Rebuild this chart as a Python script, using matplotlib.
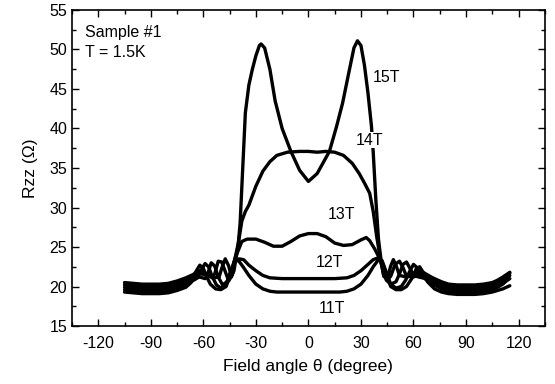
import matplotlib
matplotlib.use("Agg")
import matplotlib.pyplot as plt
from matplotlib.ticker import MultipleLocator

plt.rcParams['font.family'] = ['Liberation Sans', 'DejaVu Sans']
plt.rcParams['axes.unicode_minus'] = False

# field angle (deg) and Rzz (ohm) for each field
theta_11 = [-105, -100, -95, -90, -85, -80, -75, -70, -67, -64.5, -62, -60, -58, -56, -53, -50,
            -47, -44.5, -42, -40, -37, -34, -30, -26, -22, -18, -10, 0, 10, 18, 22, 26, 30, 34,
            37, 40, 42, 44.5, 47, 50, 53, 56, 59, 61.5, 63.5, 65.5, 68, 72, 76, 80, 85, 90, 95,
            100, 105, 108, 111, 113, 115]
r_11 = [19.3, 19.2, 19.1, 19.1, 19.1, 19.2, 19.5, 19.9, 20.5, 21.8, 22.7, 22.3, 21.2, 20.3, 19.7, 19.6,
        20.0, 21.5, 23.2, 23.3, 22.4, 21.4, 20.3, 19.7, 19.4, 19.3, 19.3, 19.3, 19.3, 19.3, 19.4, 19.7, 20.3, 21.4,
        22.5, 23.4, 23.2, 21.5, 20.0, 19.6, 19.6, 20.0, 21.0, 22.2, 22.5, 21.8, 20.6, 19.7, 19.3, 19.1, 19.0, 19.0, 19.0,
        19.1, 19.3, 19.5, 19.7, 19.9, 20.1]

theta_12 = [-105, -100, -95, -90, -85, -80, -75, -70, -67, -64, -61.5, -59, -57, -55, -52.5, -50,
            -47, -44.5, -42, -39.5, -37, -34, -30, -26, -22, -15, 0, 15, 22, 26, 30, 34, 37, 39.5,
            42, 44.5, 47, 50, 53, 55.5, 58, 60, 62, 64, 67, 71, 76, 80, 85, 90, 95, 100, 105,
            108, 111, 113, 115]
r_12 = [19.6, 19.5, 19.4, 19.4, 19.4, 19.5, 19.8, 20.2, 20.6, 21.0, 22.0, 22.9, 22.5, 21.3, 20.2, 19.8,
        20.3, 21.8, 23.3, 23.5, 23.4, 22.7, 22.0, 21.4, 21.1, 21.0, 21.0, 21.0, 21.1, 21.4, 22.0, 22.8, 23.4, 23.6,
        23.3, 21.8, 20.3, 19.8, 20.0, 20.8, 22.0, 22.8, 22.4, 21.5, 20.9, 20.3, 19.7, 19.4, 19.3, 19.3, 19.3, 19.4, 19.6,
        19.9, 20.3, 20.7, 21.0]

theta_13 = [-105, -100, -95, -90, -85, -80, -75, -70, -66, -62, -59, -57.5, -55.5, -53.5, -51.5, -49,
            -46.5, -44, -42, -40, -38, -35, -30, -25, -20, -15, -10, -5, 0, 5, 10, 15, 20, 25, 30,
            33, 35, 38, 40.5, 42, 44.5, 47, 50, 52, 54, 56, 58, 60, 63, 67, 71, 76, 80, 85, 90,
            95, 100, 105, 108, 111, 113, 115]
r_13 = [19.9, 19.8, 19.7, 19.7, 19.7, 19.8, 20.1, 20.5, 20.9, 21.2, 21.0, 21.6, 23.0, 22.6, 21.2, 20.2,
        20.6, 22.0, 23.5, 24.6, 25.7, 26.0, 26.0, 25.6, 25.1, 25.1, 25.7, 26.4, 26.7, 26.7, 26.3, 25.5, 25.2, 25.3, 25.9,
        26.2, 25.8, 24.7, 23.6, 22.6, 20.8, 20.3, 20.6, 21.6, 22.8, 23.1, 22.3, 21.4, 21.2, 21.0, 20.5, 20.0, 19.7, 19.6, 19.6,
        19.6, 19.7, 19.9, 20.2, 20.6, 21.0, 21.4]

theta_14 = [-105, -100, -95, -90, -85, -80, -75, -70, -66, -62, -58, -55, -53.5, -51.5, -49.5, -47.5,
            -45.5, -43.5, -42, -40, -38, -36, -34, -30, -26, -22, -18, -12, -5, 0, 5, 10, 15, 20,
            25, 29, 32, 35, 37, 39, 41, 43, 45, 47, 49.5, 52, 54, 56, 60, 64, 67, 71, 76, 80, 85,
            90, 95, 100, 105, 108, 111, 113, 115]
r_14 = [20.2, 20.1, 20.0, 20.0, 20.0, 20.1, 20.4, 20.8, 21.2, 21.6, 21.5, 21.1, 21.6, 23.2, 23.1, 21.9,
        20.7, 21.5, 23.5, 25.5, 28.3, 29.5, 30.3, 32.7, 34.6, 35.8, 36.6, 37.0, 37.1, 37.1, 37.0, 37.1, 37.0, 36.6,
        35.6, 34.3, 33.1, 31.8, 29.5, 26.3, 23.6, 21.4, 20.8, 21.3, 22.8, 23.2, 22.4, 21.3, 21.2, 21.6, 21.3, 20.8, 20.3, 20.0, 19.9,
        19.9, 19.9, 20.0, 20.2, 20.5, 20.9, 21.3, 21.7]

theta_15 = [-105, -100, -95, -90, -85, -80, -75, -70, -66, -62, -58, -54, -51, -49.5, -47.5, -45.5,
            -44, -42.5, -41, -40, -39, -37.5, -36, -34, -32, -30, -28, -27, -25, -22, -19, -15,
            -10, -5, 0, 5, 8, 12, 16, 19.5, 23, 26, 28, 30, 32, 34, 36, 37, 38.5, 40, 41.5, 43,
            45, 47, 48.5, 50, 52, 56, 60, 64, 67, 71, 76, 80, 85, 90, 95, 100, 105, 108, 111,
            113, 115]
r_15 = [20.5, 20.4, 20.3, 20.3, 20.3, 20.4, 20.7, 21.1, 21.5, 22.0, 21.6, 21.1, 21.2, 22.3, 23.5, 22.6,
        21.2, 22.0, 24.0, 25.5, 28.0, 35.0, 42.0, 45.5, 47.5, 49.2, 50.5, 50.7, 50.2, 47.5, 43.5, 40.0,
        37.1, 34.7, 33.3, 34.3, 35.5, 37.1, 40.2, 43.2, 47.0, 50.2, 51.1, 50.5, 48.0, 44.5, 40.3, 37.0, 31.0, 26.0, 23.3, 21.3,
        21.0, 22.6, 23.4, 22.7, 21.4, 21.2, 21.6, 22.0, 21.6, 21.1, 20.6, 20.3, 20.2, 20.2, 20.2, 20.3, 20.5, 20.8, 21.2,
        21.5, 21.8]

labels = ["11T", "12T", "13T", "14T", "15T"]
label_x = [6, 4, 11, 27, 36.5]
label_y = [17.2, 23.1, 29.1, 38.5, 46.5]

fig = plt.figure(figsize=(5.55, 3.84), dpi=100)
ax = fig.add_axes([0.1297, 0.151, 0.852, 0.823])

for th, r in [(theta_11, r_11), (theta_12, r_12), (theta_13, r_13),
              (theta_14, r_14), (theta_15, r_15)]:
    ax.plot(th, r, color='black', lw=2.4, solid_joinstyle='round', solid_capstyle='round')

for lab, lx, ly in zip(labels, label_x, label_y):
    ax.text(lx, ly, lab, fontsize=11.5, ha='left', va='center',
            bbox=dict(facecolor='white', edgecolor='none', pad=0.5))

ax.text(-127.5, 52.2, "Sample #1", fontsize=11.5, ha='left', va='center')
ax.text(-127.5, 49.6, "T = 1.5K", fontsize=11.5, ha='left', va='center')

ax.set_xlim(-135, 135)
ax.set_ylim(15, 55)
ax.xaxis.set_major_locator(MultipleLocator(30))
ax.xaxis.set_minor_locator(MultipleLocator(15))
ax.yaxis.set_major_locator(MultipleLocator(5))
ax.yaxis.set_minor_locator(MultipleLocator(2.5))
ax.tick_params(which='both', direction='in', top=True, right=True, labelsize=11.5, width=1.0)
ax.tick_params(which='major', length=5)
ax.tick_params(which='minor', length=3)
ax.tick_params(axis='x', pad=7)
for s in ax.spines.values():
    s.set_linewidth(1.2)

ax.set_xlabel("Field angle θ (degree)", fontsize=12.5, labelpad=6)
ax.set_ylabel("Rzz (Ω)", fontsize=12.5, labelpad=8)

fig.savefig("out.png", dpi=100)
